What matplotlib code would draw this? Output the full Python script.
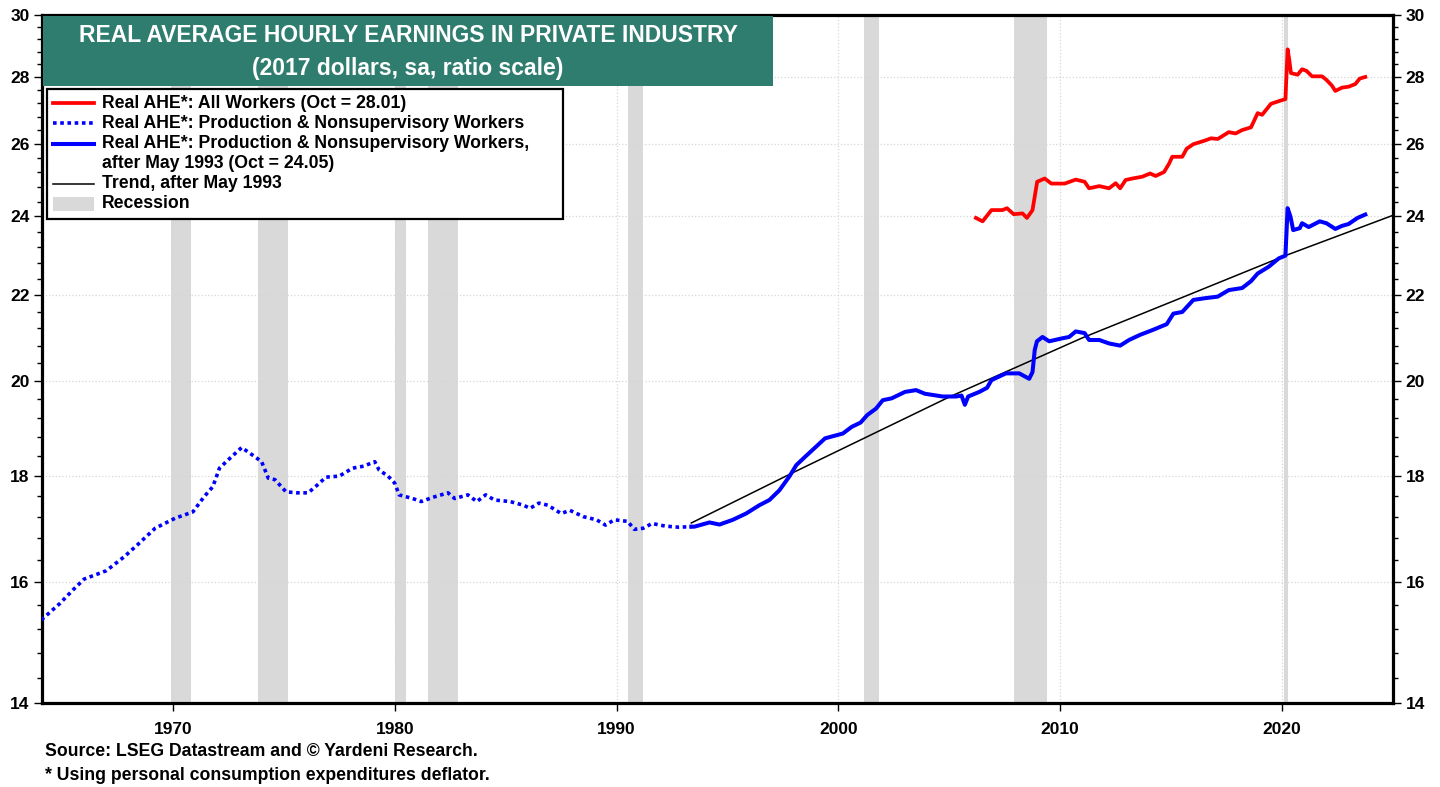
import matplotlib
matplotlib.use("Agg")
import matplotlib.pyplot as plt
from matplotlib.patches import Rectangle
from matplotlib.lines import Line2D
from matplotlib.ticker import FixedLocator, NullFormatter

plt.rcParams['font.family'] = ['Liberation Sans', 'DejaVu Sans']
plt.rcParams['font.weight'] = 'bold'

# Production & nonsupervisory workers, before May 1993 (dotted)
pn_early_years = [1964.07, 1964.9, 1965.5, 1966.0, 1967.0, 1967.8, 1968.4, 1969.2, 1970.1, 1970.9,
                  1971.4, 1971.8, 1972.1, 1972.5, 1973.1, 1973.7, 1974.0, 1974.3, 1974.6, 1975.1,
                  1975.6, 1976.1, 1976.5, 1976.9, 1977.5, 1978.1, 1978.6, 1979.1, 1979.3, 1979.7,
                  1980.0, 1980.2, 1980.8, 1981.2, 1981.7, 1982.4, 1982.7, 1983.3, 1983.7, 1984.1,
                  1984.5, 1985.2, 1985.8, 1986.1, 1986.5, 1986.9, 1987.5, 1987.9, 1988.5, 1989.1,
                  1989.5, 1989.9, 1990.5, 1990.8, 1991.2, 1991.6, 1992.2, 1992.8, 1993.4]
pn_early_vals = [15.35, 15.63, 15.87, 16.06, 16.21, 16.46, 16.68, 16.99, 17.18, 17.30,
                 17.59, 17.79, 18.16, 18.33, 18.58, 18.39, 18.29, 17.96, 17.93, 17.69,
                 17.67, 17.67, 17.82, 17.98, 18.00, 18.16, 18.20, 18.29, 18.12, 18.00,
                 17.86, 17.63, 17.56, 17.50, 17.58, 17.67, 17.56, 17.63, 17.50, 17.63,
                 17.53, 17.50, 17.43, 17.37, 17.47, 17.43, 17.27, 17.33, 17.21, 17.15,
                 17.05, 17.15, 17.12, 16.97, 16.99, 17.08, 17.03, 17.01, 17.02]

# Production & nonsupervisory workers, after May 1993 (solid)
pn_years = [1993.37, 1993.51, 1994.19, 1994.64, 1995.24, 1995.84, 1996.44, 1996.89, 1997.34, 1997.8,
            1998.1, 1998.5, 1999.0, 1999.4, 2000.2, 2000.6, 2001.0, 2001.3, 2001.7, 2002.0,
            2002.4, 2003.0, 2003.5, 2003.9, 2004.7, 2005.3, 2005.55, 2005.7, 2005.85, 2006.35,
            2006.7, 2006.9, 2007.55, 2008.15, 2008.6, 2008.75, 2008.85, 2008.95, 2009.2, 2009.5,
            2010.1, 2010.4, 2010.7, 2011.1, 2011.3, 2011.76, 2012.2, 2012.7, 2013.1, 2013.6,
            2014.2, 2014.8, 2015.1, 2015.5, 2016.0, 2016.5, 2017.1, 2017.6, 2018.2, 2018.6,
            2018.9, 2019.4, 2019.85, 2020.15, 2020.25, 2020.38, 2020.5, 2020.8, 2020.9, 2021.2,
            2021.7, 2022.0, 2022.4, 2022.7, 2023.0, 2023.4, 2023.75]
pn_vals = [17.02, 17.02, 17.10, 17.06, 17.15, 17.27, 17.43, 17.53, 17.72, 18.00,
           18.22, 18.39, 18.60, 18.77, 18.87, 19.01, 19.10, 19.26, 19.40, 19.58,
           19.62, 19.76, 19.80, 19.72, 19.66, 19.66, 19.68, 19.48, 19.66, 19.76,
           19.85, 20.02, 20.17, 20.17, 20.05, 20.20, 20.70, 20.90, 21.00, 20.90,
           20.97, 21.00, 21.13, 21.09, 20.93, 20.93, 20.85, 20.80, 20.93, 21.05,
           21.17, 21.30, 21.55, 21.59, 21.88, 21.92, 21.96, 22.12, 22.17, 22.34,
           22.53, 22.70, 22.91, 22.98, 24.22, 23.99, 23.64, 23.69, 23.82, 23.72,
           23.87, 23.82, 23.67, 23.75, 23.80, 23.96, 24.05]

# All workers (red)
all_years = [2006.2, 2006.5, 2006.9, 2007.4, 2007.6, 2007.9, 2008.3, 2008.5, 2008.75, 2008.96,
             2009.3, 2009.6, 2010.2, 2010.7, 2011.1, 2011.3, 2011.76, 2012.2, 2012.5, 2012.7,
             2012.95, 2013.25, 2013.7, 2014.05, 2014.3, 2014.68, 2014.9, 2015.05, 2015.5, 2015.7,
             2016.0, 2016.5, 2016.8, 2017.1, 2017.4, 2017.6, 2017.9, 2018.2, 2018.6, 2018.9,
             2019.1, 2019.5, 2019.9, 2020.15, 2020.25, 2020.32, 2020.4, 2020.7, 2020.9, 2021.1,
             2021.35, 2021.8, 2022.0, 2022.25, 2022.4, 2022.7, 2023.0, 2023.3, 2023.5, 2023.75]
all_vals = [23.96, 23.87, 24.17, 24.17, 24.22, 24.06, 24.08, 23.96, 24.17, 24.94,
            25.03, 24.89, 24.89, 25.00, 24.94, 24.76, 24.82, 24.76, 24.90, 24.76,
            24.99, 25.03, 25.08, 25.17, 25.10, 25.21, 25.44, 25.64, 25.64, 25.87,
            26.00, 26.10, 26.17, 26.15, 26.27, 26.35, 26.31, 26.41, 26.49, 26.91,
            26.86, 27.19, 27.28, 27.33, 28.88, 28.57, 28.13, 28.08, 28.25, 28.20,
            28.03, 28.03, 27.92, 27.74, 27.58, 27.68, 27.71, 27.79, 27.96, 28.01]

# Trend after May 1993
trend_years = [1993.37, 1998.0, 2005.0, 2011.0, 2015.5, 2020.05, 2025.0]
trend_vals = [17.09, 18.08, 19.65, 20.98, 21.94, 22.96, 24.03]

recessions = [(1969.92, 1970.83), (1973.83, 1975.17), (1980.0, 1980.5), (1981.5, 1982.83),
              (1990.5, 1991.17), (2001.17, 2001.83), (2007.92, 2009.42), (2020.08, 2020.25)]

y_ticks = [14, 16, 18, 20, 22, 24, 26, 28, 30]
x_ticks = [1970, 1980, 1990, 2000, 2010, 2020]

W, H = 1440, 787
fig = plt.figure(figsize=(W / 100, H / 100), dpi=100)
ax = fig.add_axes([42 / W, 1 - 703 / H, (1393 - 42) / W, (703 - 15) / H])

for s, e in recessions:
    ax.axvspan(s, e, color='#d9d9d9', lw=0, zorder=1)

ax.plot(pn_early_years, pn_early_vals, color='#0000ff', lw=2.6, linestyle=(0, (1, 1)), zorder=3)
ax.plot(trend_years, trend_vals, color='black', lw=1.1, zorder=3)
ax.plot(pn_years, pn_vals, color='#0000ff', lw=2.9, zorder=4)
ax.plot(all_years, all_vals, color='#ff0000', lw=2.7, zorder=4)

ax.set_yscale('log')
ax.set_ylim(14, 30)
ax.set_xlim(1964.1, 2025.0)
ax.yaxis.set_major_locator(FixedLocator(y_ticks))
ax.yaxis.set_major_formatter(plt.FixedFormatter([str(t) for t in y_ticks]))
minor = [round(14 + 0.4 * i, 1) for i in range(1, 41) if round(14 + 0.4 * i, 1) not in y_ticks]
ax.yaxis.set_minor_locator(FixedLocator(minor))
ax.yaxis.set_minor_formatter(NullFormatter())
ax.set_xticks(x_ticks)
ax.set_xticklabels([str(t) for t in x_ticks])
ax.xaxis.set_minor_locator(FixedLocator([]))

ax.tick_params(axis='y', which='major', left=True, right=True, labelleft=True, labelright=True,
               length=6, width=1, labelsize=12.5, pad=3)
ax.tick_params(axis='y', which='minor', left=True, right=True, length=3.5, width=1)
ax.tick_params(axis='x', which='major', length=6, width=1, labelsize=12.5, pad=8)
for lab in ax.get_xticklabels() + ax.get_yticklabels():
    lab.set_fontweight('bold')

ax.grid(True, which='major', color='#d6d6d6', linestyle=':', lw=0.9, zorder=0)
for sp in ax.spines.values():
    sp.set_linewidth(2.3)
    sp.set_color('black')


def fx(x):
    return x / W


def fy(y):
    return 1 - y / H


# title box
fig.add_artist(Rectangle((fx(43), fy(86)), fx(773) - fx(43), fy(16) - fy(86),
                         transform=fig.transFigure, facecolor='#2f7d6f', edgecolor='none', zorder=5))
fig.text(fx(408), fy(36), 'REAL AVERAGE HOURLY EARNINGS IN PRIVATE INDUSTRY', color='white',
         fontsize=16.5, fontweight='bold', ha='center', va='center', zorder=6)
fig.text(fx(408), fy(69), '(2017 dollars, sa, ratio scale)', color='white',
         fontsize=16.5, fontweight='bold', ha='center', va='center', zorder=6)

# legend box
fig.add_artist(Rectangle((fx(47), fy(219)), fx(563) - fx(47), fy(89) - fy(219),
                         transform=fig.transFigure, facecolor='white', edgecolor='black',
                         lw=1.6, zorder=5))
rows = [
    (103, dict(color='#ff0000', lw=2.7), 'Real AHE*: All Workers (Oct = 28.01)'),
    (123, dict(color='#0000ff', lw=2.6, linestyle=(0, (1, 1))), 'Real AHE*: Production & Nonsupervisory Workers'),
    (144, dict(color='#0000ff', lw=2.9), 'Real AHE*: Production & Nonsupervisory Workers,'),
    (164, None, 'after May 1993 (Oct = 24.05)'),
    (184, dict(color='black', lw=1.1), 'Trend, after May 1993'),
    (204, 'patch', 'Recession'),
]
for y, style, label in rows:
    if style == 'patch':
        fig.add_artist(Rectangle((fx(53), fy(211)), fx(94) - fx(53), fy(197) - fy(211),
                                 transform=fig.transFigure, facecolor='#d9d9d9',
                                 edgecolor='none', zorder=6))
    elif style is not None:
        fig.add_artist(Line2D([fx(53), fx(94)], [fy(y), fy(y)], transform=fig.transFigure,
                              zorder=6, **style))
    fig.text(fx(102), fy(y), label, fontsize=12.7, fontweight='bold', ha='left', va='center',
             zorder=6)

fig.text(fx(45), fy(751), 'Source: LSEG Datastream and \u00a9 Yardeni Research.', fontsize=12.7,
         fontweight='bold', ha='left', va='center')
fig.text(fx(45), fy(776), '* Using personal consumption expenditures deflator.', fontsize=12.7,
         fontweight='bold', ha='left', va='center')

fig.savefig('out.png', dpi=100)
